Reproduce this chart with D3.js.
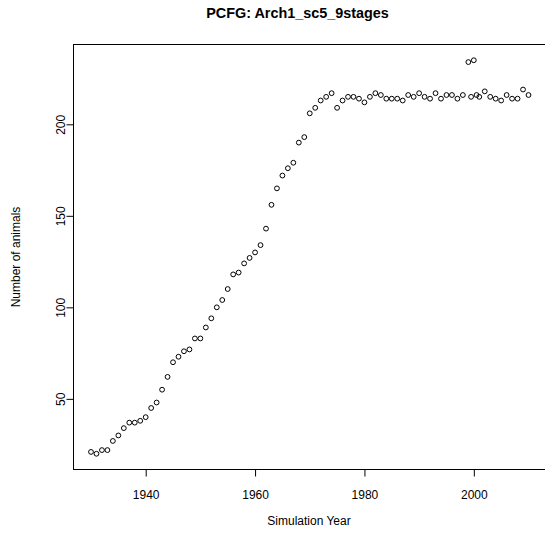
<!DOCTYPE html>
<html>
<head>
<meta charset="utf-8">
<script src="https://cdn.jsdelivr.net/npm/d3@7"></script>
<style>
  body { margin: 0; background: #fff; }
  svg { display: block; font-family: "Liberation Sans", Arial, Helvetica, sans-serif; }
</style>
</head>
<body>
<div id="chart"></div>
<script>
// canvas size
var svg_w = 545;
var svg_h = 543;

// plot region (R style box)
var plot_l = 73.5, plot_r = 546, plot_t = 44.5, plot_b = 469.5;

// data
var years = [1930, 1931, 1932, 1933, 1934, 1935, 1936, 1937, 1938, 1939,
	1940, 1941, 1942, 1943, 1944, 1945, 1946, 1947, 1948, 1949,
	1950, 1951, 1952, 1953, 1954, 1955, 1956, 1957, 1958, 1959,
	1960, 1961, 1962, 1963, 1964, 1965, 1966, 1967, 1968, 1969,
	1970, 1971, 1972, 1973, 1974, 1975, 1976, 1977, 1978, 1979,
	1980, 1981, 1982, 1983, 1984, 1985, 1986, 1987, 1988, 1989,
	1990, 1991, 1992, 1993, 1994, 1995, 1996, 1997, 1998, 1999,
	1999.5, 2000, 2000.5, 2001, 2002, 2003, 2004, 2005, 2006, 2007,
	2008, 2009, 2010];
var animals = [21, 20, 22, 22, 27, 30, 34, 37, 37, 38,
	40, 45, 48, 55, 62, 70, 73, 76, 77, 83,
	83, 89, 94, 100, 104, 110, 118, 119, 124, 127,
	130, 134, 143, 156, 165, 172, 176, 179, 190, 193,
	206, 209, 213, 215, 217, 209, 213, 215, 215, 214,
	212, 215, 217, 216, 214, 214, 214, 213, 216, 215,
	217, 215, 214, 217, 214, 216, 216, 214, 216, 234,
	215, 235, 216, 215, 218, 215, 214, 213, 216, 214,
	214, 219, 216];

var x_ticks = [1940, 1960, 1980, 2000];
var y_ticks = [50, 100, 150, 200];

var title = "PCFG: Arch1_sc5_9stages";
var x_title = "Simulation Year";
var y_title = "Number of animals";

var dataset = years.map(function(d, i) { return [d, animals[i]]; });

// R pads the data range by 4%
function pad_range(ext) {
	var p = (ext[1] - ext[0]) * 0.04;
	return [ext[0] - p, ext[1] + p];
}

var svg = d3.select("#chart")
	.append("svg")
	.attr("width", svg_w)
	.attr("height", svg_h);

var year_scale = d3.scaleLinear()
	.domain(pad_range(d3.extent(years)))
	.range([plot_l, plot_r]);

var count_scale = d3.scaleLinear()
	.domain(pad_range(d3.extent(animals)))
	.range([plot_b, plot_t]);

// x axis
var x_axis = d3.axisBottom(year_scale)
	.tickValues(x_ticks)
	.tickFormat(d3.format("d"))
	.tickSize(7)
	.tickPadding(13.5);

var gx = svg.append("g")
	.attr("transform", "translate(0," + plot_b + ")")
	.call(x_axis);
gx.select(".domain").remove();
gx.selectAll("text").attr("font-size", 12).attr("fill", "#000").attr("font-family", null);
gx.selectAll("line").attr("stroke", "#000");

// y axis
var y_axis = d3.axisLeft(count_scale)
	.tickValues(y_ticks)
	.tickSize(7);

var gy = svg.append("g")
	.attr("transform", "translate(" + plot_l + ",0)")
	.call(y_axis);
gy.select(".domain").remove();
gy.selectAll("line").attr("stroke", "#000");
gy.selectAll("text")
	.attr("font-size", 12)
	.attr("fill", "#000")
	.attr("font-family", null)
	.attr("x", 0)
	.attr("dy", null)
	.attr("text-anchor", "middle")
	.attr("transform", "translate(-8.5,0) rotate(-90)");

// box
svg.append("rect")
	.attr("x", plot_l)
	.attr("y", plot_t)
	.attr("width", plot_r - plot_l)
	.attr("height", plot_b - plot_t)
	.attr("fill", "none")
	.attr("stroke", "#000")
	.attr("stroke-width", 1);

// points
svg.append("g")
	.selectAll("circle")
	.data(dataset)
	.enter()
	.append("circle")
	.attr("cx", function(d) { return year_scale(d[0]); })
	.attr("cy", function(d) { return count_scale(d[1]); })
	.attr("r", 2.4)
	.attr("fill", "none")
	.attr("stroke", "#000")
	.attr("stroke-width", 1);

// titles
svg.append("text")
	.attr("x", 297.5)
	.attr("y", 17.5)
	.attr("text-anchor", "middle")
	.attr("font-size", 14.4)
	.attr("font-weight", "bold")
	.text(title);

svg.append("text")
	.attr("x", 309)
	.attr("y", 525)
	.attr("text-anchor", "middle")
	.attr("font-size", 12)
	.text(x_title);

svg.append("text")
	.attr("transform", "translate(20," + ((plot_t + plot_b) / 2) + ") rotate(-90)")
	.attr("text-anchor", "middle")
	.attr("font-size", 12)
	.text(y_title);
</script>
</body>
</html>
